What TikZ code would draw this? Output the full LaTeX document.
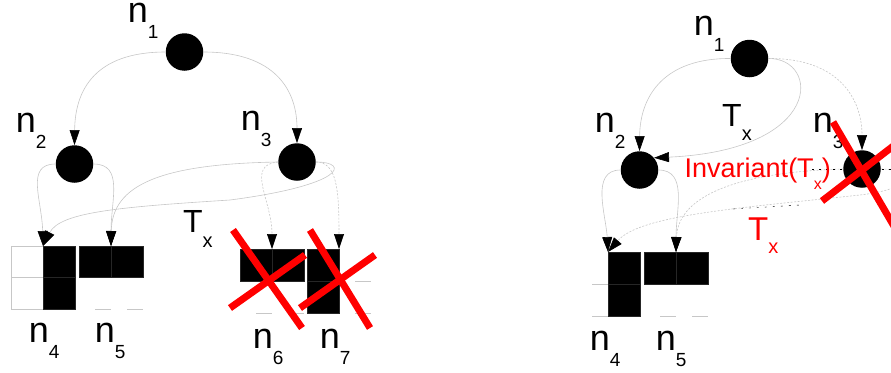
\documentclass[tikz,border=0pt]{standalone}
\usepackage{fontspec}
\setmainfont{Liberation Sans}
\usetikzlibrary{arrows.meta}
\newcommand{\nsub}[2]{#1\raisebox{-16pt}{\fontsize{19}{19}\selectfont #2}}

\begin{document}
\begin{tikzpicture}[x=1pt,y=-1pt,
    dot/.style={circle,fill=black,inner sep=0pt,minimum size=37.5pt},
    lbl/.style={anchor=base west,inner sep=0pt,font=\fontsize{36}{36}\selectfont},
    link/.style={draw=black!22,line width=0.6pt,-{Triangle[width=10pt,length=15pt,black]}},
    dlink/.style={link,dash pattern=on 2pt off 1.5pt},
    full/.style={fill=black,draw=black!85,line width=0.3pt},
    blank/.style={draw=black!22,line width=0.8pt},
    kill/.style={draw=red,line width=7pt}]
    \useasboundingbox (0,0) rectangle (891,372);

    \node[dot] (n1L) at (184.5,52) {};
    \node[dot] (n2L) at (74.5,164) {};
    \node[dot] (n3L) at (297,162) {};
    \node[lbl] (l1L) at (127.6,23) {\nsub{n}{1}};
    \node[lbl] (l2L) at (15.6,132) {\nsub{n}{2}};
    \node[lbl] (l3L) at (240.6,130) {\nsub{n}{3}};
    \node[lbl] (l4L) at (28.6,342) {\nsub{n}{4}};
    \node[lbl] (l5L) at (94.6,342) {\nsub{n}{5}};
    \node[lbl] (l6L) at (252.6,348) {\nsub{n}{6}};
    \node[lbl] (l7L) at (319.6,348) {\nsub{n}{7}};
    \node[lbl,font=\fontsize{32}{32}\selectfont] (txL) at (183,232)
        {T\raisebox{-15pt}{\fontsize{20}{20}\selectfont x}};

    \foreach \y in {246,277.5}
        \draw[blank] (11,\y) rectangle ++(32,31.5);
    \foreach \x/\y in {43/246,43/277.5,79/246,111/246}
        \draw[full] (\x,\y) rectangle ++(32,31.5);
    \foreach \x/\y in {240/249,272/249,307/249,307/281}
        \draw[full] (\x,\y) rectangle ++(32,32);
    \foreach \x/\y in {95/309,127/309,256/313,288/313,355/281,355/313}
        \draw[blank] (\x,\y) -- ++(16,0);

    \coordinate (t4L) at (43,246);
    \coordinate (t5L) at (111,246);
    \coordinate (t6L) at (272,249);
    \coordinate (t7L) at (339,249);

    \draw[link] (n1L.west) .. controls (95,52) and (75,90) .. (n2L.north);
    \draw[link] (n1L.east) .. controls (275,52) and (297,90) .. (n3L.north);
    \draw[link] (n2L.west) .. controls (25,164) and (42,200) .. (t4L);
    \draw[link] (n2L.east) .. controls (124,164) and (111,200) .. (t5L);
    \draw[link] (n3L.west) .. controls (160,164) and (112,185) .. (t5L);
    \draw[link] (n3L.east) .. controls (350,162) and (345,185) .. (230,200)
        .. controls (120,207) and (60,212) .. (t4L);
    \draw[dlink] (n3L.west) .. controls (245,165) and (272,200) .. (t6L);
    \draw[dlink] (n3L.east) .. controls (337,162) and (339,190) .. (t7L);

    \draw[kill] (233,230) -- (302,328);
    \draw[kill] (230,308) -- (305,255);
    \draw[kill] (310,230) -- (370,328);
    \draw[kill] (300,308) -- (375,255);

    \node[dot] (n1R) at (749.5,58.5) {};
    \node[dot] (n2R) at (639.5,170) {};
    \node[dot] (n3R) at (862,169) {};
    \node[lbl] (l1R) at (693.6,35) {\nsub{n}{1}};
    \node[lbl] (l2R) at (594.6,132) {\nsub{n}{2}};
    \node[lbl] (l3R) at (812.6,132) {\nsub{n}{3}};
    \node[lbl] (l4R) at (589.6,350) {\nsub{n}{4}};
    \node[lbl] (l5R) at (655.6,350) {\nsub{n}{5}};
    \node[lbl,font=\fontsize{32}{32}\selectfont] (txR) at (722,126)
        {T\raisebox{-14pt}{\fontsize{20}{20}\selectfont x}};
    \node[lbl,font=\fontsize{33}{33}\selectfont,text=red] (tyR) at (748,240)
        {T\raisebox{-13pt}{\fontsize{20}{20}\selectfont x}};

    \foreach \x/\y in {608/252,608/284,644/252,676/252}
        \draw[full] (\x,\y) rectangle ++(32,32);
    \foreach \x/\y in {592/284,592/316,660/316,692/316}
        \draw[blank] (\x,\y) -- ++(16,0);

    \coordinate (t4R) at (608,252);
    \coordinate (t5R) at (676,252);

    \draw[link] (n1R.west) .. controls (665,58) and (640,95) .. (n2R.north);
    \draw[link] (n1R.east) .. controls (820,58) and (825,150) .. (n2R.40);
    \draw[dlink] (n1R.east) .. controls (840,58) and (862,100) .. (n3R.north);
    \draw[link] (n2R.west) .. controls (590,170) and (606,215) .. (t4R);
    \draw[link] (n2R.east) .. controls (688,170) and (676,210) .. (t5R);
    \draw[dlink] (n3R.west) .. controls (740,172) and (678,195) .. (t5R);
    \draw[dlink] (n3R.east) .. controls (910,169) and (920,188) .. (860,195)
        .. controls (740,208) and (640,215) .. (t4R);
    \draw[black,dash pattern=on 2pt off 5pt] (812,169) -- (891,169);
    \draw[black,dash pattern=on 2pt off 6pt] (733,209) -- (800,205);

    \node[lbl,font=\fontsize{27}{27}\selectfont,text=red] (inv) at (684.5,177)
        {Invariant(T\raisebox{-12pt}{\fontsize{16}{16}\selectfont x})};

    \draw[kill] (833,122) -- (905,245);
    \draw[kill] (822,201) -- (905,137);
\end{tikzpicture}
\end{document}
